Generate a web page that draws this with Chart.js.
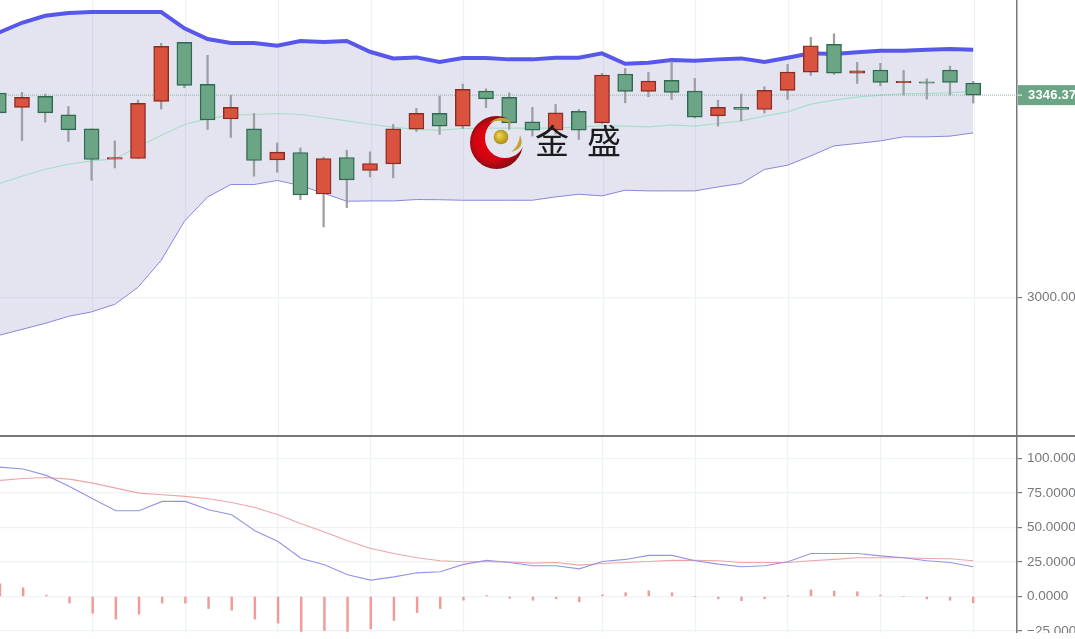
<!DOCTYPE html>
<html>
<head>
<meta charset="utf-8">
<script src="https://cdn.jsdelivr.net/npm/chart.js@4"></script>
<style>
  html, body { margin: 0; padding: 0; background: #fff; overflow: hidden; }
  #wrap { position: relative; width: 1075px; height: 633px; overflow: hidden; background: #fff; filter: blur(0.35px); }
  canvas { position: absolute; left: 0; }
  #priceChart { top: 0; }
  #stochChart { top: 436px; }
  #sep { position: absolute; left: 0; top: 435px; width: 1075px; height: 1.5px; background: #77787c; }
  #brand { position: absolute; left: 535px; top: 121px; font: 400 34px/38px "Noto Sans CJK SC"; letter-spacing: 18px; color: #1c1c1c; white-space: nowrap; }
</style>
</head>
<body>
<div id="wrap">
  <canvas id="priceChart" width="1075" height="436"></canvas>
  <canvas id="stochChart" width="1075" height="204"></canvas>
  <div id="sep"></div>
  <div id="brand">金盛</div>
</div>
<script>
const opens = [3349.8,3325.3,3344.1,3312.6,3288.6,3236.6,3237.8,3335.6,3436.7,3364.7,3305.7,3288.6,3235.4,3248.1,3177.1,3239.5,3217.3,3228.6,3288.1,3315,3293.2,3353.2,3342.4,3300.6,3286.4,3318.4,3298.9,3382.4,3352.7,3371.6,3353.2,3310.9,3325.3,3321.8,3354.4,3385.8,3433.3,3384.1,3389.2,3367.8,3369.2,3389.2,3366.9];
const closes = [3316,3342.4,3316,3286.9,3236.1,3239.2,3332.1,3429.9,3363,3304,3325.3,3234.4,3248.6,3175.4,3237.8,3201.1,3229.3,3288.6,3315,3293.2,3356.1,3340,3298.9,3286.4,3316,3286.4,3380.7,3352.7,3370.4,3351,3308.6,3325.3,3321.8,3354.4,3385.8,3430.9,3384.1,3388,3368.1,3370,3366.9,3368.1,3346.37];
const highs = [3372.1,3351,3348.1,3327,3288.6,3268,3337.8,3435,3436.7,3414.4,3346.4,3315,3264.6,3256,3240.1,3252.1,3249.1,3296.1,3323.6,3344.7,3365.2,3357.2,3350.3,3325.3,3330.4,3321.8,3383.6,3392.2,3385.3,3403.5,3375,3337.8,3348.1,3360.6,3399,3445.3,3451.5,3402.4,3400.7,3388.7,3374.3,3396.1,3369.9];
const lows = [3266.3,3268.7,3300.1,3267,3200.6,3221.7,3237.8,3322.4,3358.9,3287.6,3273.8,3207.5,3214.3,3167.5,3120.5,3153.8,3206.3,3204.6,3284.1,3279,3289.3,3324.6,3287.6,3276.1,3280,3270.4,3297.8,3333.2,3343.5,3339,3307.4,3293.2,3302.3,3315.5,3339,3380.1,3381.9,3366.4,3362.3,3346.4,3339.5,3346.4,3332.7];

const upperBand = [3453.5,3470.3,3482.3,3487,3488.7,3488.7,3488.7,3488.7,3460.7,3442.4,3435.5,3435.5,3430.9,3439,3437.2,3439,3420.6,3409.3,3411,3403,3409.8,3409.8,3407.6,3407.6,3410.3,3410.3,3417.9,3400,3401.8,3406.4,3405.2,3407.6,3409.3,3403,3410.3,3417.9,3416.7,3419.6,3422.3,3422.3,3424,3425.2,3424];
const midBand = [3194.6,3207.5,3219.5,3228.1,3233.7,3237.1,3257.7,3277.8,3296.1,3305.7,3312.1,3313.3,3315,3313.3,3308.1,3302.3,3296.6,3291.5,3287.6,3286.4,3289.3,3289.8,3289.8,3289.8,3289.8,3291.5,3294.1,3293.2,3292,3295.4,3293.2,3297.8,3302.3,3310.4,3317.7,3330.9,3337.8,3342.9,3346.4,3348.6,3349.3,3350.3,3353.2];
const lowerBand = [2934.8,2945.1,2955.4,2967.4,2975.1,2988,3017.1,3063.4,3130.3,3172,3193.2,3193.2,3200.1,3191.5,3178.3,3164.6,3165.1,3165.1,3167.5,3167.2,3166.3,3166.3,3166.3,3166.3,3172,3176.6,3173.7,3183.5,3182.3,3182.3,3182.3,3189.1,3195,3219,3226.3,3242.3,3259.4,3263.5,3268,3274.9,3274.9,3276.1,3281.7];

const kLine = [93.6,92.2,87.6,79.6,70.7,62,62,68.8,68.8,62.7,59.1,47.5,39.8,27.5,22.9,15.7,11.8,14.2,17.1,17.9,23.2,26.1,24.6,22.2,22.2,20,25.3,26.8,29.7,29.7,25.8,23.4,21.5,22.2,25.1,31.1,31.1,31.1,29.4,28,25.8,24.6,21.5];
const dLine = [84,85.4,86.1,84.9,82,78.4,74.8,73.6,72.4,70.7,68,64.4,59.1,52.6,46.6,40.3,34.7,31.1,28,25.8,25.1,25.1,24.9,24.1,24.6,22.7,23.9,24.6,25.3,26.1,26.1,25.8,24.6,24.6,24.6,25.8,26.8,28,28,28,27.5,27.3,25.8];
const histValues = [9.2,6.3,1,-4.8,-12.1,-16.4,-12.8,-4.8,-4.8,-8.7,-9.9,-16.4,-19.3,-25.3,-24.6,-25.3,-23.4,-17.4,-11.6,-8.7,-2.7,0.7,-1.2,-2.7,-1.7,-3.9,1.2,2.7,4.1,2.7,0,-1.7,-3.1,-1.7,0.5,4.8,3.9,3.4,1,0,-1.7,-2.7,-4.6];

const gridIdx = [4,8,12,16,20,26,30,34,38,42];
const priceTicks = [3000];
const stochTicks = [100,75,50,25,0,-25];
const lastPrice = 3346.37;

const red = '#d9533f', redEdge = '#8a2c22';
const green = '#6ba585', greenEdge = '#2f6a50';
const axisGray = '#77787c', labelGray = '#77787c', gridColor = '#edf2f6';
const xMin = 0.052, xMax = 43.888;

function pts(arr) { return arr.map((v, i) => ({ x: i, y: v })); }

// candles sit about a pixel left of the grid lines in the upper panel, hence the shift
function xAxis(min, max, shift) {
  return {
    type: 'linear', min: min, max: max, offset: false,
    afterBuildTicks: s => { s.ticks = gridIdx.map(v => ({ value: v + shift })); },
    afterFit: s => { s.height = 0; },
    ticks: { display: false },
    border: { display: false },
    grid: { color: gridColor, lineWidth: 1.2, drawTicks: false, offset: false }
  };
}

function yAxis(min, max, tickVals, fmt) {
  return {
    type: 'linear', position: 'right', min: min, max: max,
    afterBuildTicks: s => { s.ticks = tickVals.map(v => ({ value: v })); },
    afterFit: s => { s.width = 58; s.paddingTop = 0; s.paddingBottom = 0; },
    border: { color: axisGray, width: 1.5 },
    grid: { color: gridColor, lineWidth: 1.2, tickColor: axisGray, tickLength: 5 },
    ticks: { autoSkip: false, crossAlign: 'near', padding: 5, color: labelGray,
      font: { family: '"Liberation Sans"', size: 13.5 }, callback: fmt }
  };
}

// green tag on the price axis
const lastPriceTag = {
  id: 'lastPriceTag',
  afterDraw(chart) {
    const c = chart.ctx, y = chart.scales.y.getPixelForValue(lastPrice);
    c.save();
    c.fillStyle = green;
    c.fillRect(1018, y - 10, 57, 20);
    c.fillStyle = '#fff';
    c.fillRect(1018, y - 0.5, 4, 1);
    c.font = 'bold 13px "Liberation Sans"';
    c.letterSpacing = '0.2px';
    c.textBaseline = 'middle';
    c.fillText(lastPrice.toFixed(2), 1028, y + 0.5);
    c.restore();
  }
};

// red crescent and gold ball next to the brand name
const logo = {
  id: 'logo',
  afterDraw(chart) {
    const c = chart.ctx;
    c.save();
    c.beginPath();
    c.rect(440, 90, 120, 100);
    c.arc(505, 138, 20, 0, Math.PI * 2);
    c.clip('evenodd');
    const g = c.createRadialGradient(489, 141, 4, 495, 143, 28);
    g.addColorStop(0, '#e8000f');
    g.addColorStop(0.6, '#cf0512');
    g.addColorStop(1, '#7d0d12');
    c.fillStyle = g;
    c.beginPath();
    c.arc(496.5, 142.5, 26.5, 0, Math.PI * 2);
    c.fill();
    c.restore();

    c.save();
    const b = c.createRadialGradient(499, 135, 1, 501, 137, 8);
    b.addColorStop(0, '#ecd24a');
    b.addColorStop(1, '#a98712');
    c.fillStyle = b;
    c.beginPath();
    c.arc(501, 137, 7.3, 0, Math.PI * 2);
    c.fill();
    c.fillStyle = '#c6a330';
    c.beginPath();
    c.moveTo(489, 123);
    c.quadraticCurveTo(503, 112, 512, 124);
    c.quadraticCurveTo(502, 118, 489, 123);
    c.fill();
    c.beginPath();
    c.moveTo(511, 152);
    c.quadraticCurveTo(519, 146, 520, 135);
    c.quadraticCurveTo(526, 148, 511, 152);
    c.fill();
    c.restore();
  }
};

new Chart(document.getElementById('priceChart'), {
  type: 'bar',
  data: {
    datasets: [
      { type: 'bar', label: 'body', order: 1, grouped: false, barThickness: 15,
        data: opens.map((o, i) => ({ x: i, y: [o, closes[i]] })),
        backgroundColor: opens.map((o, i) => closes[i] >= o ? red : green),
        borderColor: opens.map((o, i) => closes[i] >= o ? redEdge : greenEdge),
        borderWidth: 1.4, borderSkipped: false },
      { type: 'bar', label: 'wick', order: 2, grouped: false, barThickness: 1.6,
        data: lows.map((l, i) => ({ x: i, y: [l, highs[i]] })),
        backgroundColor: '#9c9ea0' },
      { type: 'line', label: 'last', order: 3, data: [{ x: xMin, y: lastPrice }, { x: xMax, y: lastPrice }],
        borderColor: '#86b9a2', borderWidth: 1, borderDash: [1, 1], pointRadius: 0 },
      { type: 'line', label: 'mid', order: 4, data: pts(midBand),
        borderColor: '#a6dfca', borderWidth: 1.1, pointRadius: 0, tension: 0 },
      { type: 'line', label: 'upper', order: 5, data: pts(upperBand),
        borderColor: '#5757ec', borderWidth: 4, pointRadius: 0, tension: 0,
        fill: { target: 5, above: 'rgba(90,90,170,0.16)', below: 'rgba(90,90,170,0.16)' } },
      { type: 'line', label: 'lower', order: 6, data: pts(lowerBand),
        borderColor: '#8c8ce2', borderWidth: 1, pointRadius: 0, tension: 0 }
    ]
  },
  options: {
    responsive: false, animation: false,
    layout: { padding: 0 },
    plugins: { legend: { display: false }, tooltip: { enabled: false } },
    scales: {
      x: xAxis(xMin, xMax, 0.05),
      y: yAxis(2762.5, 3509.3, priceTicks, v => v.toFixed(2))
    }
  },
  plugins: [lastPriceTag, logo]
});

new Chart(document.getElementById('stochChart'), {
  type: 'bar',
  data: {
    datasets: [
      { type: 'line', label: 'K', order: 1, data: pts(kLine),
        borderColor: '#9494e4', borderWidth: 1.1, pointRadius: 0, tension: 0 },
      { type: 'line', label: 'D', order: 2, data: pts(dLine),
        borderColor: '#f0a5a5', borderWidth: 1.1, pointRadius: 0, tension: 0 },
      { type: 'bar', label: 'hist', order: 3, grouped: false, barThickness: 1.8,
        data: pts(histValues), backgroundColor: '#f09a9a' }
    ]
  },
  options: {
    responsive: false, animation: false,
    layout: { padding: 0 },
    plugins: { legend: { display: false }, tooltip: { enabled: false } },
    scales: {
      x: xAxis(0, 43.89, 0),
      y: yAxis(-31.5, 116.1, stochTicks, v => (v < 0 ? '\u2212' + Math.abs(v).toFixed(4) : v.toFixed(4)))
    }
  }
});
</script>
</body>
</html>
